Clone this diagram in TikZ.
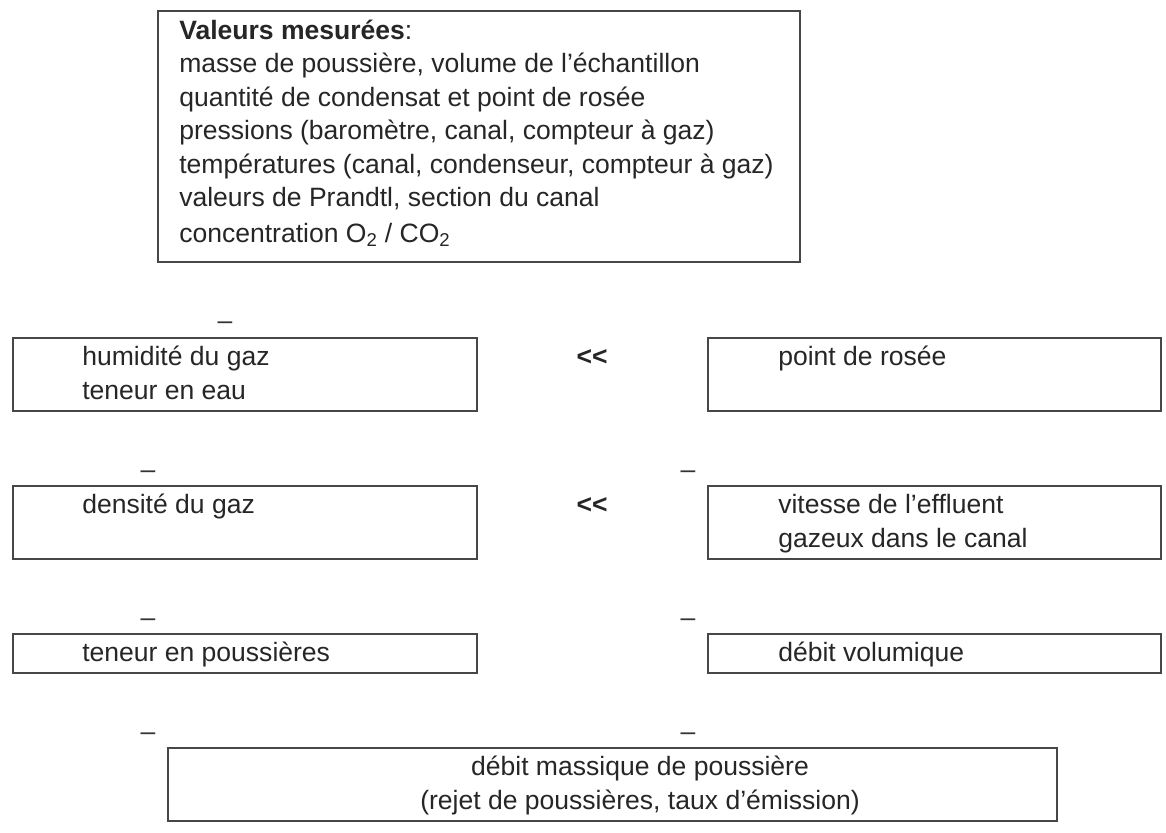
\documentclass[tikz,border=0pt]{standalone}
\usepackage{fontspec}
\setmainfont{Liberation Sans}
\usetikzlibrary{fit}
\begin{document}
\begin{tikzpicture}[x=0.75pt,y=-0.75pt,
  box/.style={draw=black!72, line width=1.2pt, inner sep=0pt, rectangle},
  txt/.style={anchor=base west, inner sep=0pt, text=black!85, font=\fontsize{19.9}{25}\selectfont},
  ctxt/.style={anchor=base, inner sep=0pt, text=black!85, font=\fontsize{19.9}{25}\selectfont},
  dashmark/.style={anchor=base, inner sep=0pt, text=black!80, font=\fontsize{19.9}{25}\selectfont},
  rel/.style={anchor=center, inner sep=0pt, text=black!85, font=\fontsize{19.9}{25}\selectfont\bfseries}]
\useasboundingbox[fill=white] (0,0) rectangle (1166,832);

% top box
\node[box, fit={(158,11) (800,262)}] (top) {};
\node[txt] (t1) at (179,39) {\bfseries Valeurs mesurées\mdseries:};
\node[txt] (t2) at (179,72.5) {masse de poussière, volume de l’échantillon};
\node[txt] (t3) at (179,106) {quantité de condensat et point de rosée};
\node[txt] (t4) at (179,139.5) {pressions (baromètre, canal, compteur à gaz)};
\node[txt] (t5) at (179,173) {températures (canal, condenseur, compteur à gaz)};
\node[txt] (t6) at (179,206.5) {valeurs de Prandtl, section du canal};
\node[txt] (t7) at (179,242) {concentration O\textsubscript{2} / CO\textsubscript{2}};

% row 1
\node[dashmark] (d1l) at (225,329) {–};
\node[box, fit={(13,338) (477,411)}] (r1l) {};
\node[txt] (r1lt1) at (82,365) {humidité du gaz};
\node[txt] (r1lt2) at (82,399) {teneur en eau};
\node[rel] (rel1) at (592,358) {<{}<};
\node[box, fit={(708,338) (1161,411)}] (r1r) {};
\node[txt] (r1rt1) at (778,365) {point de rosée};

% row 2
\node[dashmark] (d2l) at (148,478) {–};
\node[dashmark] (d2r) at (688,478) {–};
\node[box, fit={(13,486) (477,559)}] (r2l) {};
\node[txt] (r2lt1) at (82,513) {densité du gaz};
\node[rel] (rel2) at (592,506) {<{}<};
\node[box, fit={(708,486) (1161,559)}] (r2r) {};
\node[txt] (r2rt1) at (778,513) {vitesse de l’effluent};
\node[txt] (r2rt2) at (778,547) {gazeux dans le canal};

% row 3
\node[dashmark] (d3l) at (148,626) {–};
\node[dashmark] (d3r) at (688,626) {–};
\node[box, fit={(13,634) (477,673)}] (r3l) {};
\node[txt] (r3lt1) at (82,661) {teneur en poussières};
\node[box, fit={(708,634) (1161,673)}] (r3r) {};
\node[txt] (r3rt1) at (778,661) {débit volumique};

% row 4
\node[dashmark] (d4l) at (148,740) {–};
\node[dashmark] (d4r) at (688,740) {–};
\node[box, fit={(168,748) (1057,821)}] (bot) {};
\node[ctxt] (bt1) at (640,775) {débit massique de poussière};
\node[ctxt] (bt2) at (640,809) {(rejet de poussières, taux d’émission)};
\end{tikzpicture}
\end{document}
